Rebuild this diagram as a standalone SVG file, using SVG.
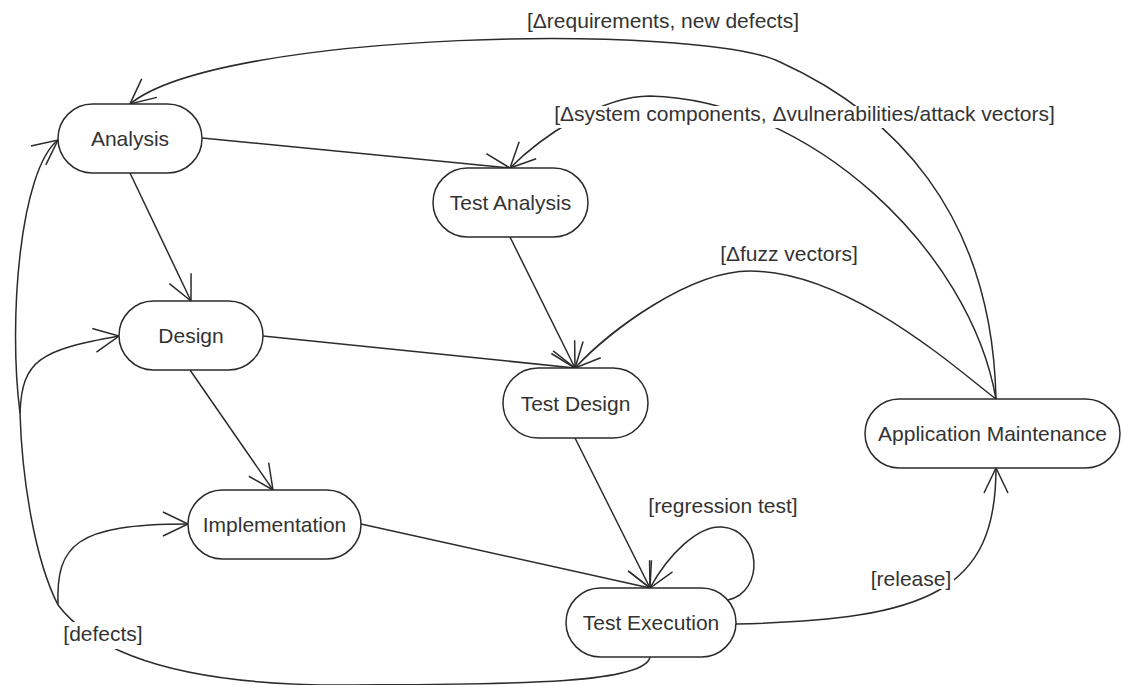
<svg xmlns="http://www.w3.org/2000/svg" width="1122" height="685" viewBox="0 0 1122 685">
  <style>
    .node rect { fill: #ffffff; stroke: #2b2b2b; stroke-width: 1.5; }
    .node text, .lbl text { font-family: "Liberation Sans", Arial, sans-serif; font-size: 21px; fill: #333333; text-anchor: middle; }
    .edge { fill: none; stroke: #2b2b2b; stroke-width: 1.5; }
    .lbl rect { fill: #ffffff; stroke: none; }
  </style>
  <defs>
    <marker id="arrow" viewBox="-28 -15 31 30" refX="0" refY="0" markerWidth="31" markerHeight="30" markerUnits="userSpaceOnUse" orient="auto">
      <path d="M-25,-12 L0,0 L-25,12" fill="none" stroke="#2b2b2b" stroke-width="1.5" stroke-linejoin="miter"/>
    </marker>
  </defs>
  <rect width="1122" height="685" fill="#ffffff"/>

  <!-- transitions -->
  <g id="connectors">
    <path class="edge" d="M202,138 L510,168" marker-end="url(#arrow)"/>
    <path class="edge" d="M130,173 L191,301" marker-end="url(#arrow)"/>
    <path class="edge" d="M510,237 L575,368" marker-end="url(#arrow)"/>
    <path class="edge" d="M263,336 L575,368" marker-end="url(#arrow)"/>
    <path class="edge" d="M190,370 L273,490" marker-end="url(#arrow)"/>
    <path class="edge" d="M361,524 L650,588" marker-end="url(#arrow)"/>
    <path class="edge" d="M575,438 L650,588" marker-end="url(#arrow)"/>
    <!-- regression loop on Test Execution -->
    <path class="edge" d="M728,600 C 765,592 762,530 722,527 C 698,525 668,555 650,588" marker-end="url(#arrow)"/>
    <!-- release -->
    <path class="edge" d="M736,624 C 930,620 996,590 996,468" marker-end="url(#arrow)"/>
    <!-- maintenance feedback -->
    <path class="edge" d="M996,399 C 992,210 890,112 780,62 C 699,23 220,30 130,104" marker-end="url(#arrow)"/>
    <path class="edge" d="M996,399 C 970,250 810,100 650,96 C 600,96 540,138 510,168" marker-end="url(#arrow)"/>
    <path class="edge" d="M996,399 C 960,372 850,271 750,271 C 690,271 610,330 575,368" marker-end="url(#arrow)"/>
    <!-- defects -->
    <path class="edge" d="M650,657 C 645,685 500,684 350,685 C 200,686 100,660 58,605"/>
    <path class="edge" d="M58,605 C 56,545 75,524 188,524" marker-end="url(#arrow)"/>
    <path class="edge" d="M58,605 C 35,560 22,480 20,413"/>
    <path class="edge" d="M20,413 C 22,360 40,350 119,336" marker-end="url(#arrow)"/>
    <path class="edge" d="M20,413 C 8,320 20,170 58,140" marker-end="url(#arrow)"/>
  </g>

  <!-- guard labels -->
  <g id="edge-labels" class="lbl">
    <rect x="524" y="10" width="278" height="24"/>
    <text x="663" y="28">[Δrequirements, new defects]</text>
    <rect x="549" y="106" width="512" height="22"/>
    <text x="804.5" y="121">[Δsystem components, Δvulnerabilities/attack vectors]</text>
    <rect x="716" y="244" width="146" height="23"/>
    <text x="789" y="261">[Δfuzz vectors]</text>
    <rect x="644" y="496" width="158" height="22"/>
    <text x="723" y="513">[regression test]</text>
    <rect x="868" y="568" width="86" height="21"/>
    <text x="911" y="586">[release]</text>
    <rect x="60" y="622" width="87" height="27"/>
    <text x="103" y="641">[defects]</text>
  </g>

  <g id="analysis" class="node">
    <rect x="58" y="104" width="144" height="69" rx="34.5"/>
    <text x="130" y="146">Analysis</text>
  </g>
  <g id="test-analysis" class="node">
    <rect x="433" y="168" width="155" height="69" rx="34.5"/>
    <text x="510.5" y="210">Test Analysis</text>
  </g>
  <g id="design" class="node">
    <rect x="119" y="301" width="144" height="69" rx="34.5"/>
    <text x="191" y="343">Design</text>
  </g>
  <g id="test-design" class="node">
    <rect x="503" y="368" width="145" height="70" rx="35"/>
    <text x="575.5" y="411">Test Design</text>
  </g>
  <g id="application-maintenance" class="node">
    <rect x="865" y="399" width="255" height="69" rx="34.5"/>
    <text x="992.5" y="441">Application Maintenance</text>
  </g>
  <g id="implementation" class="node">
    <rect x="188" y="490" width="173" height="69" rx="34.5"/>
    <text x="274.5" y="532">Implementation</text>
  </g>
  <g id="test-execution" class="node">
    <rect x="566" y="588" width="170" height="69" rx="34.5"/>
    <text x="651" y="630">Test Execution</text>
  </g>
</svg>
